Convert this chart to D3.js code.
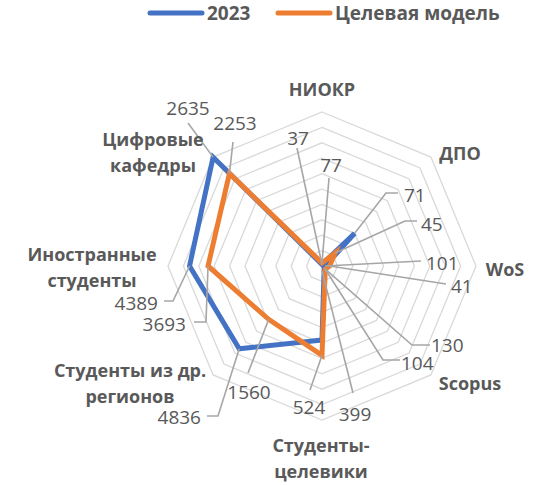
<!DOCTYPE html>
<html>
<head>
<meta charset="utf-8">
<script src="https://cdn.jsdelivr.net/npm/d3@7"></script>
<style>
  body { margin: 0; background: #fff; }
  svg { display: block; font-family: "Open Sans", sans-serif; }
</style>
</head>
<body>
<svg id="chart" width="556" height="485"></svg>
<script>
// categories, clockwise from the top
const axes = [
  ["НИОКР"], ["ДПО"], ["WoS"], ["Scopus"],
  ["Студенты-", "целевики"], ["Студенты из др.", "регионов"],
  ["Иностранные", "студенты"], ["Цифровые", "кафедры"]
];
const seriesNames = ["2023", "Целевая модель"];
// plotted (normalized) values
const values2023 = [0.01, 0.30, 0.02, 0.02, 0.48, 0.76, 0.86, 1.0];
const valuesTarget = [0.02, 0.12, 0.05, 0.03, 0.58, 0.49, 0.74, 0.85];
// printed data labels
const labels2023 = [37, 71, 101, 130, 524, 4836, 4389, 2635];
const labelsTarget = [77, 45, 41, 104, 399, 1560, 3693, 2253];
const ringTicks = [0.1, 0.2, 0.3, 0.4, 0.5, 0.6, 0.7, 0.8, 0.9, 1.0];

const colors = ["#4472C4", "#ED7D31"];
const cx = 322, cy = 266, R = 154;

const svg = d3.select("#chart");

const r = d3.scaleLinear().domain([0, 1]).range([0, R]);
const angle = d3.scaleLinear().domain([0, axes.length]).range([0, 2 * Math.PI]);

// point of value v on axis i
const pt = (i, v) => [cx + r(v) * Math.sin(angle(i)), cy - r(v) * Math.cos(angle(i))];

// grid rings
const g = svg.append("g");
g.selectAll("polygon")
  .data(ringTicks)
  .join("polygon")
  .attr("points", t => axes.map((a, i) => pt(i, t).join(",")).join(" "))
  .attr("fill", "none")
  .attr("stroke", "#d9d9d9")
  .attr("stroke-width", 1.3);

// series lines
const line = d3.lineRadial()
  .angle((d, i) => angle(i))
  .radius(d => r(d))
  .curve(d3.curveLinearClosed);

svg.append("g")
  .attr("transform", `translate(${cx},${cy})`)
  .selectAll("path")
  .data([values2023, valuesTarget])
  .join("path")
  .attr("d", line)
  .attr("fill", "none")
  .attr("stroke", (d, i) => colors[i])
  .attr("stroke-width", 5)
  .attr("stroke-linejoin", "miter");

// data labels: s = series, i = axis, text anchor x,y, leader knee points, optional target value
const labelLayout = [
  { s: 0, i: 0, x: 298, y: 145, leader: [[297, 148]] },
  { s: 1, i: 0, x: 331, y: 172, leader: [[329, 178]] },
  { s: 0, i: 1, x: 404, y: 202, a: "start", leader: [[398, 193], [386, 193]] },
  { s: 1, i: 1, x: 421, y: 231, a: "start", leader: [[417, 221], [405, 221]] },
  { s: 0, i: 2, x: 426, y: 270, a: "start", leader: [[421, 261]] },
  { s: 1, i: 2, x: 451, y: 293, a: "start", leader: [[446, 284]] },
  { s: 0, i: 3, x: 431, y: 352, a: "start", leader: [[430, 345], [412, 345]] },
  { s: 1, i: 3, x: 401, y: 370, a: "start", leader: [[400, 360], [383, 360]] },
  { s: 0, i: 4, x: 309, y: 414, leader: [[310, 390]], s2: 1 },
  { s: 1, i: 4, x: 355, y: 421, leader: [[353, 393]], v: 0.03 },
  { s: 1, i: 5, x: 249, y: 399, leader: [[248, 373]] },
  { s: 0, i: 5, x: 201, y: 424, a: "end", leader: [[207, 416], [218, 416]] },
  { s: 0, i: 6, x: 158, y: 310, a: "end", leader: [[164, 301], [173, 301]] },
  { s: 1, i: 6, x: 186, y: 331, a: "end", leader: [[194, 322], [206, 322]] },
  { s: 0, i: 7, x: 188, y: 115, leader: [[188, 123]] },
  { s: 1, i: 7, x: 235, y: 130, leader: [[233, 142]] }
];
const allValues = [values2023, valuesTarget];
const allLabels = [labels2023, labelsTarget];

const lab = svg.append("g");
lab.selectAll("path")
  .data(labelLayout)
  .join("path")
  .attr("d", d => {
    const s = d.s2 !== undefined ? d.s2 : d.s;
    const v = d.v !== undefined ? d.v : allValues[s][d.i];
    return d3.line()([...d.leader, pt(d.i, v)]);
  })
  .attr("fill", "none")
  .attr("stroke", "#a6a6a6")
  .attr("stroke-width", 1.6);

lab.selectAll("text")
  .data(labelLayout)
  .join("text")
  .attr("x", d => d.x)
  .attr("y", d => d.y)
  .attr("text-anchor", d => d.a || "middle")
  .attr("fill", "#595959")
  .style("font-size", "19px")
  .text(d => allLabels[d.s][d.i]);

// category labels
const catPos = [[322, 96], [460, 160], [505, 276], [470, 390], [321, 452], [130, 377], [92, 261], [153, 146]];
svg.append("g")
  .selectAll("text")
  .data(axes)
  .join("text")
  .attr("x", (d, i) => catPos[i][0])
  .attr("y", (d, i) => catPos[i][1])
  .attr("text-anchor", "middle")
  .attr("fill", "#595959")
  .style("font-size", "18px")
  .style("font-weight", "bold")
  .selectAll("tspan")
  .data(d => d)
  .join("tspan")
  .attr("x", function () { return d3.select(this.parentNode).attr("x"); })
  .attr("dy", (d, j) => j === 0 ? 0 : 26)
  .text(d => d);

// legend
const legendX = [150, 278];
const legend = svg.append("g")
  .selectAll("g")
  .data(seriesNames)
  .join("g")
  .attr("transform", (d, i) => `translate(${legendX[i]},13)`);
legend.append("line")
  .attr("x1", 0).attr("x2", 52)
  .attr("stroke", (d, i) => colors[i])
  .attr("stroke-width", 5)
  .attr("stroke-linecap", "round");
legend.append("text")
  .attr("x", 57)
  .attr("y", 7)
  .attr("fill", "#595959")
  .style("font-size", "19px")
  .style("font-weight", "bold")
  .text(d => d);
</script>
</body>
</html>
